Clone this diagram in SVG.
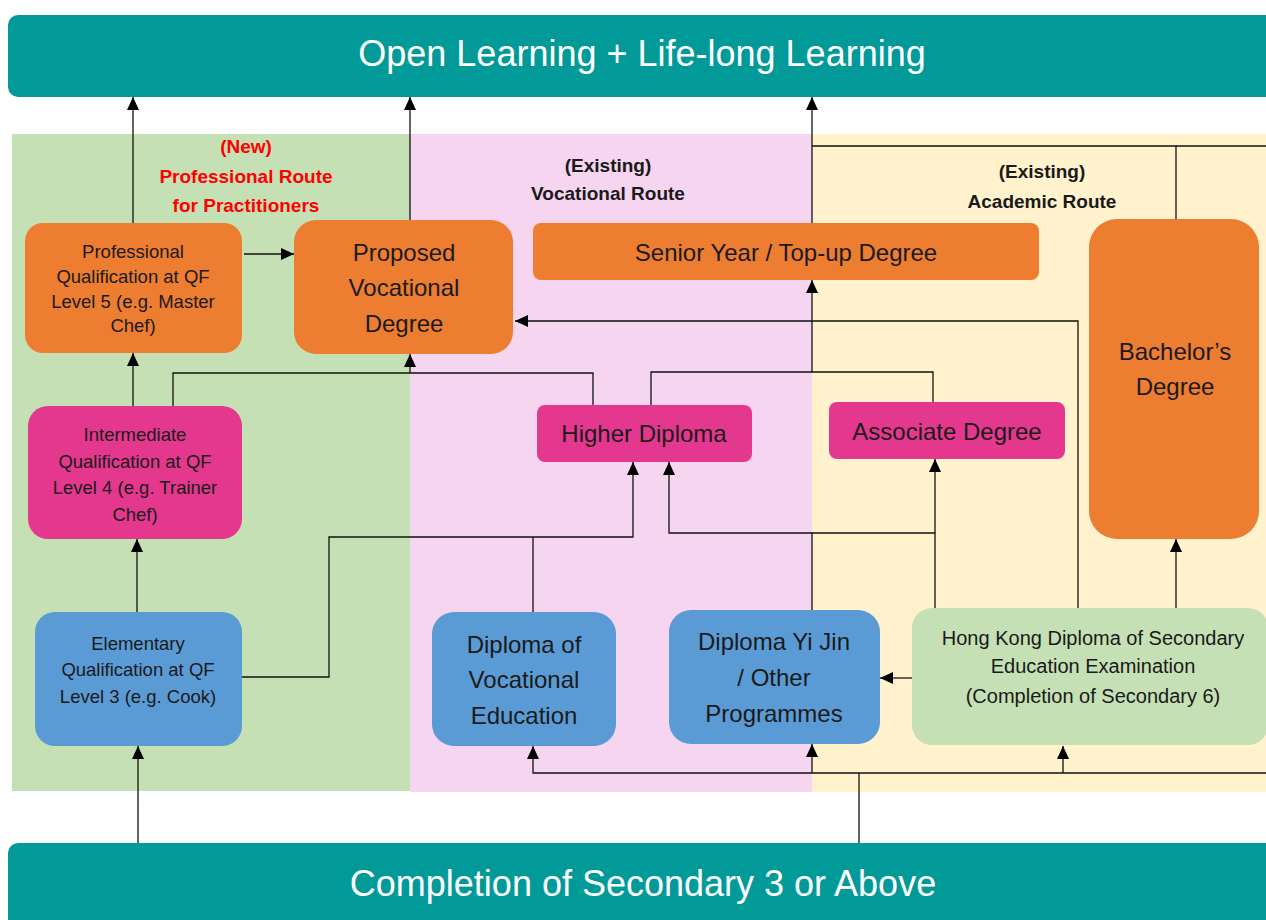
<svg xmlns="http://www.w3.org/2000/svg" width="1266" height="920" viewBox="0 0 1266 920">
<defs>
<marker id="ah" markerUnits="userSpaceOnUse" markerWidth="13" markerHeight="12" viewBox="0 0 13 12" refX="13" refY="6" orient="auto">
<path d="M0,0 L13,6 L0,12 z" fill="#000"/>
</marker>
<style>
text{font-family:"Liberation Sans",Arial,sans-serif;text-anchor:middle;fill:#1a1a1a}
.banner{fill:#029A99}
.bt{font-size:36px;fill:#fff}
.orange{fill:#ED7D31}
.pink{fill:#E4388E}
.blue{fill:#5B9BD5}
.lgreen{fill:#C5E0B4}
.big{font-size:24px}
.small{font-size:18.5px}
.mid{font-size:20px}
.route{font-size:19px;font-weight:bold}
.red{fill:#FF0000}
.conn path,.conn line{stroke:#111;stroke-width:1.3;fill:none}
</style>
</defs>
<rect width="1266" height="920" fill="#fff"/>
<g id="panels">
<rect x="12" y="134" width="398" height="657" fill="#C5E0B4"/>
<rect x="410" y="134" width="402" height="658" fill="#F6D5F0"/>
<rect x="812" y="134" width="454" height="658" fill="#FFF2CC"/>
</g>
<g id="top-banner">
<rect class="banner" x="8" y="15" width="1270" height="82" rx="10"/>
<text class="bt" x="642" y="66">Open Learning + Life-long Learning</text>
</g>
<g id="bottom-banner">
<rect class="banner" x="8" y="843" width="1270" height="90" rx="10"/>
<text class="bt" x="643" y="896">Completion of Secondary 3 or Above</text>
</g>
<g id="labels">
<text class="route red" x="246" y="153">(New)</text>
<text class="route red" x="246" y="183">Professional Route</text>
<text class="route red" x="246" y="212">for Practitioners</text>
<text class="route" x="608" y="172">(Existing)</text>
<text class="route" x="608" y="200">Vocational Route</text>
<text class="route" x="1042" y="178">(Existing)</text>
<text class="route" x="1042" y="208">Academic Route</text>
</g>
<g class="conn" id="connectors">
<line x1="133" y1="223" x2="133" y2="97" marker-end="url(#ah)"/>
<line x1="410" y1="220" x2="410" y2="97" marker-end="url(#ah)"/>
<line x1="812" y1="223" x2="812" y2="97" marker-end="url(#ah)"/>
<path d="M1176,219 V146 H812"/>
<line x1="1176" y1="146" x2="1266" y2="146"/>
<line x1="244" y1="254" x2="294" y2="254" marker-end="url(#ah)"/>
<line x1="133" y1="406" x2="133" y2="353" marker-end="url(#ah)"/>
<path d="M173,406 V373 H593 V405"/>
<line x1="410" y1="373" x2="410" y2="354" marker-end="url(#ah)"/>
<path d="M651,405 V372 H933 V402"/>
<line x1="812" y1="372" x2="812" y2="280" marker-end="url(#ah)"/>
<path d="M1078,608 V321 H515" marker-end="url(#ah)"/>
<path d="M242,677 H329 V537 H633 V462" marker-end="url(#ah)"/>
<line x1="533" y1="612" x2="533" y2="537"/>
<path d="M812,610 V533 H669 V462" marker-end="url(#ah)"/>
<path d="M935,608 V533 H812"/>
<line x1="935" y1="533" x2="935" y2="459" marker-end="url(#ah)"/>
<line x1="1176" y1="608" x2="1176" y2="539" marker-end="url(#ah)"/>
<line x1="912" y1="678" x2="880" y2="678" marker-end="url(#ah)"/>
<path d="M1266,773 H533 V746" marker-end="url(#ah)"/>
<line x1="812" y1="773" x2="812" y2="744" marker-end="url(#ah)"/>
<line x1="1063" y1="773" x2="1063" y2="746" marker-end="url(#ah)"/>
<line x1="859" y1="773" x2="859" y2="843"/>
<line x1="138" y1="843" x2="138" y2="746" marker-end="url(#ah)"/>
<line x1="137" y1="612" x2="137" y2="539" marker-end="url(#ah)"/>
</g>
<g id="prof-qual">
<rect class="orange" x="25" y="223" width="217" height="130" rx="18"/>
<text class="small" x="133" y="258">Professional</text>
<text class="small" x="133" y="283">Qualification at QF</text>
<text class="small" x="133" y="308">Level 5 (e.g. Master</text>
<text class="small" x="133" y="332">Chef)</text>
</g>
<g id="proposed-degree">
<rect class="orange" x="294" y="220" width="219" height="134" rx="22"/>
<text class="big" x="404" y="261">Proposed</text>
<text class="big" x="404" y="296">Vocational</text>
<text class="big" x="404" y="332">Degree</text>
</g>
<g id="senior-year">
<rect class="orange" x="533" y="223" width="506" height="57" rx="8"/>
<text class="big" x="786" y="261">Senior Year / Top-up Degree</text>
</g>
<g id="bachelor">
<rect class="orange" x="1089" y="219" width="170" height="320" rx="28"/>
<text class="big" x="1175" y="360">Bachelor’s</text>
<text class="big" x="1175" y="395">Degree</text>
</g>
<g id="intermediate">
<rect class="pink" x="28" y="406" width="214" height="133" rx="20"/>
<text class="small" x="135" y="441">Intermediate</text>
<text class="small" x="135" y="468">Qualification at QF</text>
<text class="small" x="135" y="494">Level 4 (e.g. Trainer</text>
<text class="small" x="135" y="521">Chef)</text>
</g>
<g id="elementary">
<rect class="blue" x="35" y="612" width="207" height="134" rx="20"/>
<text class="small" x="138" y="650">Elementary</text>
<text class="small" x="138" y="676">Qualification at QF</text>
<text class="small" x="138" y="703">Level 3 (e.g. Cook)</text>
</g>
<g id="higher-diploma">
<rect class="pink" x="537" y="405" width="215" height="57" rx="8"/>
<text class="big" x="644" y="442">Higher Diploma</text>
</g>
<g id="associate-degree">
<rect class="pink" x="829" y="402" width="236" height="57" rx="8"/>
<text class="big" x="947" y="440">Associate Degree</text>
</g>
<g id="dve">
<rect class="blue" x="432" y="612" width="184" height="134" rx="22"/>
<text class="big" x="524" y="653">Diploma of</text>
<text class="big" x="524" y="688">Vocational</text>
<text class="big" x="524" y="724">Education</text>
</g>
<g id="dyj">
<rect class="blue" x="669" y="610" width="211" height="134" rx="22"/>
<text class="big" x="774" y="650">Diploma Yi Jin</text>
<text class="big" x="774" y="686">/ Other</text>
<text class="big" x="774" y="722">Programmes</text>
</g>
<g id="hkdse">
<rect class="lgreen" x="912" y="608" width="356" height="137" rx="20"/>
<text class="mid" x="1093" y="645">Hong Kong Diploma of Secondary</text>
<text class="mid" x="1093" y="673">Education Examination</text>
<text class="mid" x="1093" y="703">(Completion of Secondary 6)</text>
</g>
</svg>
